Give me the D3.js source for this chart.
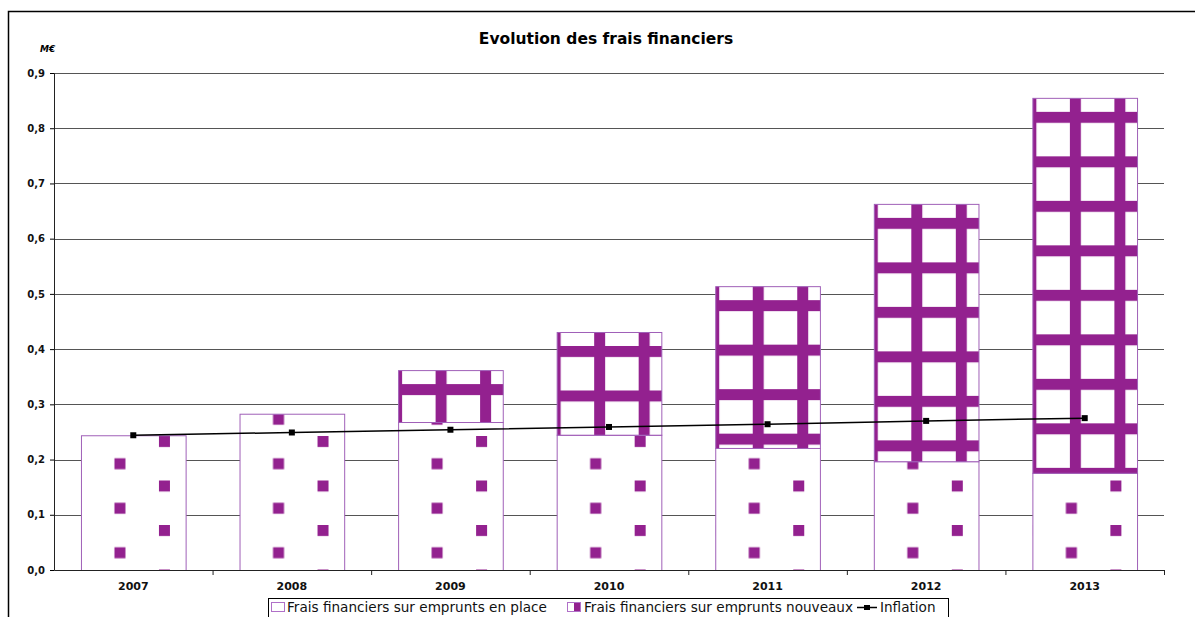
<!DOCTYPE html>
<meta charset="utf-8">
<style>
body { margin: 0; background: #fff; }
text { font-family: "DejaVu Sans", sans-serif; }
.grid line { stroke: #555; stroke-width: 1px; }
.axis text { font-weight: bold; fill: #111; }
.legend text { font-size: 13.6px; fill: #111; }
</style>
<svg width="1195" height="617"></svg>
<script src="https://d3js.org/d3.v7.min.js"></script>
<script>

// data
var years = ["2007", "2008", "2009", "2010", "2011", "2012", "2013"];
var enPlace = [0.244, 0.283, 0.268, 0.245, 0.221, 0.197, 0.176];
var nouveaux = [0, 0, 0.094, 0.186, 0.293, 0.466, 0.679];
var inflation = [0.244, 0.249, 0.254, 0.259, 0.264, 0.270, 0.275];
var yTicks = [0, 0.1, 0.2, 0.3, 0.4, 0.5, 0.6, 0.7, 0.8, 0.9];

var purple = "#93218f";

var svg = d3.select("svg"),
    margin = {top: 73, right: 31, bottom: 47, left: 54},
    width = +svg.attr("width") - margin.left - margin.right,
    height = +svg.attr("height") - margin.top - margin.bottom;

// outer frame of the chart object
svg.append("rect")
    .attr("x", 8.5).attr("y", 11.5)
    .attr("width", 1200).attr("height", 700)
    .attr("fill", "none").attr("stroke", "#000").attr("stroke-width", 1.5);

svg.append("text")
    .attr("x", 606).attr("y", 44)
    .attr("text-anchor", "middle")
    .style("font-size", "15.5px").style("font-weight", "bold")
    .text("Evolution des frais financiers");

svg.append("text")
    .attr("x", 40).attr("y", 52)
    .style("font-size", "9px").style("font-weight", "bold").style("font-style", "italic")
    .text("M€");

var x = d3.scaleBand().domain(years).range([0, width]).paddingInner(0.34).paddingOuter(0.17);
var xb = d3.scaleBand().domain(years).range([0, width]);
var y = d3.scaleLinear().domain([0, 0.9]).range([height, 0]);

var defs = svg.append("defs");
var g = svg.append("g").attr("transform", "translate(" + margin.left + "," + margin.top + ")");

// gridlines
g.append("g").attr("class", "grid")
  .selectAll("line").data(yTicks.slice(1)).enter().append("line")
    .attr("x1", 0).attr("x2", width)
    .attr("y1", function(d) { return Math.round(y(d)) + 0.5; })
    .attr("y2", function(d) { return Math.round(y(d)) + 0.5; });

var rows = years.map(function(yr, i) {
  return {year: yr, base: enPlace[i], extra: nouveaux[i], i: i};
});

// one pattern per bar so the texture starts from each bar's corner
rows.forEach(function(d) {
  var bx = margin.left + x(d.year);
  var dots = defs.append("pattern")
      .attr("id", "dots" + d.i)
      .attr("patternUnits", "userSpaceOnUse")
      .attr("x", bx + 24).attr("y", margin.top + y(0) - 29)
      .attr("width", 89).attr("height", 44.5);
  dots.append("rect").attr("width", 89).attr("height", 44.5).attr("fill", "#fff");
  dots.append("rect").attr("x", 0).attr("y", 0).attr("width", 11).attr("height", 11).attr("fill", purple);
  dots.append("rect").attr("x", 44.5).attr("y", 22.25).attr("width", 11).attr("height", 11).attr("fill", purple);

  var grid = defs.append("pattern")
      .attr("id", "grid" + d.i)
      .attr("patternUnits", "userSpaceOnUse")
      .attr("x", bx + 28).attr("y", margin.top + y(d.base + d.extra) + 30)
      .attr("width", 44.5).attr("height", 44.5);
  grid.append("rect").attr("width", 44.5).attr("height", 44.5).attr("fill", "#fff");
  grid.append("rect").attr("width", 11).attr("height", 44.5).attr("fill", purple);
  grid.append("rect").attr("width", 44.5).attr("height", 11).attr("fill", purple);
});

// en place
g.append("g").selectAll("rect").data(rows).enter().append("rect")
    .attr("x", function(d) { return x(d.year) + 0.5; })
    .attr("y", function(d) { return y(d.base) + 0.5; })
    .attr("width", x.bandwidth())
    .attr("height", function(d) { return y(0) - y(d.base); })
    .attr("fill", function(d) { return "url(#dots" + d.i + ")"; })
    .attr("stroke", "#a060b8").attr("stroke-width", 1);

// nouveaux
g.append("g").selectAll("rect").data(rows.filter(function(d) { return d.extra > 0; })).enter().append("rect")
    .attr("x", function(d) { return x(d.year) + 0.5; })
    .attr("y", function(d) { return y(d.base + d.extra) + 0.5; })
    .attr("width", x.bandwidth())
    .attr("height", function(d) { return y(d.base) - y(d.base + d.extra); })
    .attr("fill", function(d) { return "url(#grid" + d.i + ")"; })
    .attr("stroke", "#a060b8").attr("stroke-width", 1);

// inflation
var line = d3.line()
    .x(function(d, i) { return xb(years[i]) + xb.bandwidth() / 2; })
    .y(function(d) { return y(d); });

g.append("path").datum(inflation)
    .attr("d", line)
    .attr("fill", "none").attr("stroke", "#000").attr("stroke-width", 1.5);

g.append("g").selectAll("rect").data(inflation).enter().append("rect")
    .attr("x", function(d, i) { return xb(years[i]) + xb.bandwidth() / 2 - 3; })
    .attr("y", function(d) { return y(d) - 3; })
    .attr("width", 6).attr("height", 6).attr("fill", "#000");

// axes
var yAxis = g.append("g").attr("class", "axis")
    .call(d3.axisLeft(y).tickValues(yTicks).tickSize(4).tickPadding(5)
      .tickFormat(function(d) { return d3.format(".1f")(d).replace(".", ","); }));
yAxis.selectAll("text").style("font-size", "10px");
yAxis.select(".domain").attr("stroke", "#222");

var xAxis = g.append("g").attr("class", "axis")
    .attr("transform", "translate(0," + height + ")")
    .call(d3.axisBottom(xb).tickSize(0).tickPadding(12));
xAxis.selectAll("text").style("font-size", "11px");
xAxis.select(".domain").attr("stroke", "#222");
xAxis.append("g").selectAll("line").data(years.slice(1).concat(["end"])).enter().append("line")
    .attr("x1", function(d) { return d === "end" ? width + 0.5 : xb(d) + 0.5; })
    .attr("x2", function(d) { return d === "end" ? width + 0.5 : xb(d) + 0.5; })
    .attr("y1", 0).attr("y2", 5)
    .attr("stroke", "#222");

// legend
var legend = svg.append("g").attr("class", "legend");
legend.append("rect")
    .attr("x", 268.5).attr("y", 598.5).attr("width", 680).attr("height", 40)
    .attr("fill", "#fff").attr("stroke", "#000");

var legendItems = ["Frais financiers sur emprunts en place", "Frais financiers sur emprunts nouveaux", "Inflation"];
var legendX = [287, 584, 880];

legend.append("rect").attr("x", 271.5).attr("y", 602.5).attr("width", 13).attr("height", 9)
    .attr("fill", "#fff").attr("stroke", "#b070c8");
defs.append("pattern").attr("id", "legGrid").attr("patternUnits", "userSpaceOnUse")
    .attr("x", 574).attr("y", 600).attr("width", 20).attr("height", 20)
  .append("rect").attr("width", 7).attr("height", 20).attr("fill", purple);
legend.append("rect").attr("x", 567.5).attr("y", 602.5).attr("width", 13).attr("height", 9)
    .attr("fill", "url(#legGrid)").attr("stroke", "#b070c8");
legend.append("line").attr("x1", 857).attr("x2", 877).attr("y1", 607.5).attr("y2", 607.5)
    .attr("stroke", "#000").attr("stroke-width", 1.5);
legend.append("rect").attr("x", 864).attr("y", 605).attr("width", 6).attr("height", 5).attr("fill", "#000");

legend.selectAll("text.item").data(legendItems).enter().append("text")
    .attr("class", "item")
    .attr("x", function(d, i) { return legendX[i]; })
    .attr("y", 612)
    .text(function(d) { return d; });

</script>
